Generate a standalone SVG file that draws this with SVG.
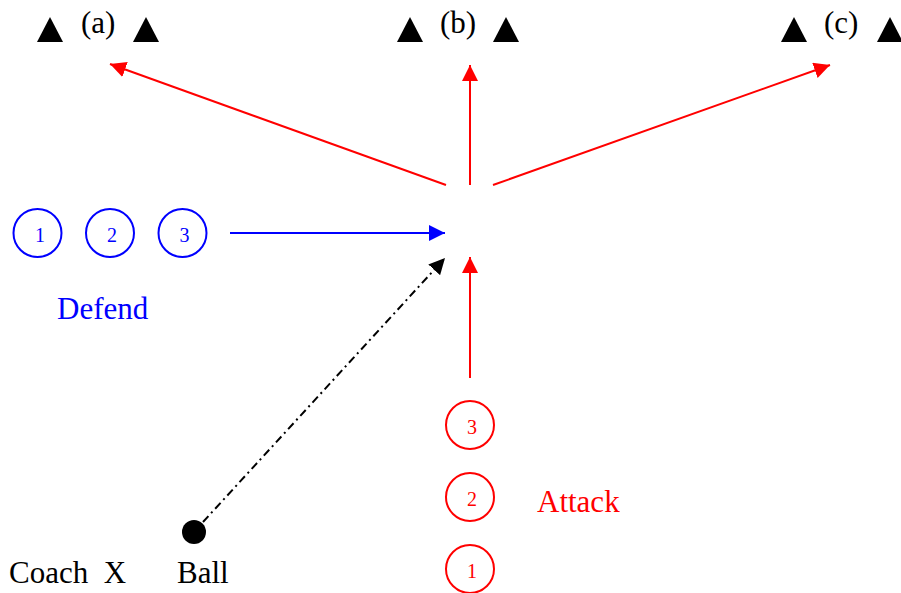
<svg xmlns="http://www.w3.org/2000/svg" width="901" height="593" viewBox="0 0 901 593">
<style>
text{font-family:"Liberation Serif","Times New Roman",serif}
.lbl{font-size:31px}
.num{font-size:20px;text-anchor:middle}
.tri{fill:#000}
.bc{fill:none;stroke:#0000ff;stroke-width:2}
.rc{fill:none;stroke:#ff0000;stroke-width:2}
.rl{stroke:#ff0000;stroke-width:2;fill:none}
.bl{stroke:#0000ff;stroke-width:2;fill:none}
.kl{stroke:#000;stroke-width:2;fill:none;stroke-dasharray:8 4 2 4}
</style>
<defs>
<marker id="ar" markerUnits="userSpaceOnUse" markerWidth="16" markerHeight="16" refX="16" refY="8" orient="auto"><path d="M0,0 L16,8 L0,16 z" fill="#ff0000"/></marker>
<marker id="ab" markerUnits="userSpaceOnUse" markerWidth="16" markerHeight="16" refX="16" refY="8" orient="auto"><path d="M0,0 L16,8 L0,16 z" fill="#0000ff"/></marker>
<marker id="ak" markerUnits="userSpaceOnUse" markerWidth="16" markerHeight="16" refX="16" refY="8" orient="auto"><path d="M0,0 L16,8 L0,16 z" fill="#000"/></marker>
</defs>
<g id="goal-a">
<polygon class="tri" points="37,42 50,17 63,42"/>
<text class="lbl" x="81" y="33">(a)</text>
<polygon class="tri" points="133,42 146,17 159,42"/>
</g>
<g id="goal-b">
<polygon class="tri" points="397,42 410,17 423,42"/>
<text class="lbl" x="440" y="33">(b)</text>
<polygon class="tri" points="493,42 506,17 519,42"/>
</g>
<g id="goal-c">
<polygon class="tri" points="781,42 794,17 807,42"/>
<text class="lbl" x="824" y="33">(c)</text>
<polygon class="tri" points="877,42 890,17 903,42"/>
</g>
<g id="defend">
<circle class="bc" cx="37.5" cy="233" r="24"/>
<text class="num" x="40" y="242" fill="#0000ff">1</text>
<circle class="bc" cx="110" cy="233" r="24"/>
<text class="num" x="112" y="242" fill="#0000ff">2</text>
<circle class="bc" cx="182.5" cy="233" r="24"/>
<text class="num" x="184.5" y="242" fill="#0000ff">3</text>
<text class="lbl" x="57" y="319" fill="#0000ff">Defend</text>
</g>
<g id="attack">
<circle class="rc" cx="470" cy="425" r="24"/>
<text class="num" x="472" y="434" fill="#ff0000">3</text>
<circle class="rc" cx="470" cy="497" r="24"/>
<text class="num" x="472" y="506" fill="#ff0000">2</text>
<circle class="rc" cx="470" cy="569" r="24"/>
<text class="num" x="472" y="578" fill="#ff0000">1</text>
<text class="lbl" x="537" y="512" fill="#ff0000">Attack</text>
</g>
<g id="coach">
<text class="lbl" x="9" y="583" xml:space="preserve">Coach  X</text>
</g>
<g id="ball">
<circle cx="194" cy="532" r="12" fill="#000"/>
<text class="lbl" x="177" y="583">Ball</text>
</g>
<g id="connectors">
<line class="rl" x1="446" y1="185" x2="110" y2="64" marker-end="url(#ar)"/>
<line class="rl" x1="470" y1="185" x2="470" y2="65" marker-end="url(#ar)"/>
<line class="rl" x1="493" y1="185" x2="830" y2="65" marker-end="url(#ar)"/>
<line class="bl" x1="230" y1="233" x2="445" y2="233" marker-end="url(#ab)"/>
<line class="kl" x1="203" y1="522" x2="445" y2="258" marker-end="url(#ak)"/>
<line class="rl" x1="470" y1="378" x2="470" y2="257" marker-end="url(#ar)"/>
</g>
</svg>
